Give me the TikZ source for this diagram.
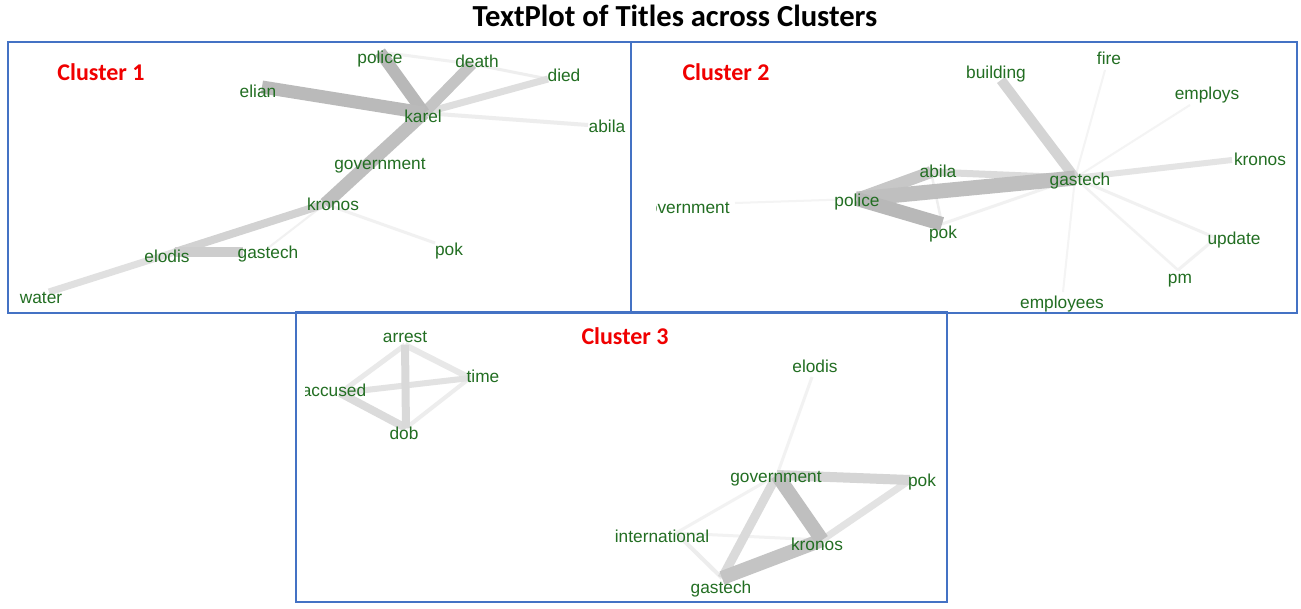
\documentclass[tikz,border=0pt]{standalone}
\usepackage{fontspec}
\setmainfont{Liberation Sans}
\newfontfamily\calfont{Carlito}
\definecolor{frameblue}{HTML}{4472C4}
\definecolor{wordgreen}{RGB}{34,110,34}
\definecolor{clred}{HTML}{F00000}
\begin{document}
\begin{tikzpicture}[x=1pt,y=-1pt,
  word/.style={text=wordgreen,font=\fontsize{17.3}{20}\selectfont,inner sep=0pt,text height=12pt,text depth=6pt,yshift=-2pt},
  cltitle/.style={text=clred,font=\calfont\bfseries\fontsize{24}{27}\selectfont,inner sep=0pt},
  maintitle/.style={text=black,font=\calfont\bfseries\fontsize{30.6}{34}\selectfont,inner sep=0pt},
  ed/.style 2 args={line width=#1pt,draw=black!#2},
  panel/.style={draw=frameblue,line width=2pt}]
\useasboundingbox (0,0) rectangle (1301,608);
\fill[white] (0,0) rectangle (1301,608);

\node[maintitle] (title) at (675,16) {TextPlot of Titles across Clusters};

% ---------------- Cluster 1 ----------------
\begin{scope}
\clip (9,43) rectangle (630,312);
\coordinate (v1police) at (380,52);
\coordinate (v1death) at (472,64);
\coordinate (v1died) at (548,79);
\coordinate (v1elian) at (262,87);
\coordinate (v1karel) at (424,113);
\coordinate (v1abila) at (588,125);
\coordinate (v1kronos) at (325,204);
\coordinate (v1pok) at (435,243);
\coordinate (v1elodis) at (175,252);
\coordinate (v1gastech) at (243,252);
\coordinate (v1water) at (49,292);
\draw[ed={2}{5.5}] (v1kronos) -- (268,248);
\draw[ed={3}{5.5}] (v1kronos) -- (v1pok);
\draw[ed={3}{5.5}] (v1police) -- (v1death);
\draw[ed={3}{6.5}] (v1death) -- (v1died);
\draw[ed={4}{7}] (v1karel) -- (v1abila);
\draw[ed={7}{13}] (v1karel) -- (v1died);
\draw[ed={7}{12}] (v1elodis) -- (v1water);
\draw[ed={8}{17.5}] (v1kronos) -- (v1elodis);
\draw[ed={10}{19.5}] (v1elodis) -- (v1gastech);
\draw[ed={11}{23}] (v1karel) -- (v1death);
\draw[ed={13}{25}] (v1karel) -- (v1kronos);
\draw[ed={12}{28}] (v1karel) -- (v1police);
\draw[ed={13}{27}] (v1karel) -- (v1elian);
\node[cltitle] (cl1) at (101,72) {Cluster 1};
\node[word] (c1police) at (380,58) {police};
\node[word] (c1death) at (477,62) {death};
\node[word] (c1died) at (564,76) {died};
\node[word] (c1elian) at (258,92) {elian};
\node[word] (c1karel) at (423,117) {karel};
\node[word] (c1abila) at (607,127) {abila};
\node[word] (c1government) at (380,164) {government};
\node[word] (c1kronos) at (333,205) {kronos};
\node[word] (c1pok) at (449,250) {pok};
\node[word] (c1elodis) at (167,257) {elodis};
\node[word] (c1gastech) at (268,253) {gastech};
\node[word] (c1water) at (41,298) {water};
\end{scope}

% ---------------- Cluster 2 ----------------
\begin{scope}
\clip (656,43) rectangle (1296,312);
\coordinate (v2gastech) at (1075,178);
\coordinate (v2building) at (1001,80);
\coordinate (v2fire) at (1105,70);
\coordinate (v2employs) at (1190,105);
\coordinate (v2kronos) at (1232,160);
\coordinate (v2update) at (1216,238);
\coordinate (v2pm) at (1178,270);
\coordinate (v2employees) at (1063,292);
\coordinate (v2police) at (857,199);
\coordinate (v2govt) at (735,203);
\coordinate (v2abila) at (931,172);
\coordinate (v2pok) at (942,224);
\draw[ed={2}{4.5}] (v2police) -- (v2govt);
\draw[ed={2}{4.5}] (v2gastech) -- (v2fire);
\draw[ed={2}{4.5}] (v2gastech) -- (v2employs);
\draw[ed={2}{4.5}] (v2gastech) -- (v2employees);
\draw[ed={2.5}{5}] (v2gastech) -- (v2pm);
\draw[ed={3}{5.5}] (v2gastech) -- (v2update);
\draw[ed={3}{5}] (v2pm) -- (v2update);
\draw[ed={3}{5.5}] (v2gastech) -- (v2pok);
\draw[ed={2.5}{6.5}] (v2abila) -- (v2pok);
\draw[ed={6}{10.5}] (v2gastech) -- (v2kronos);
\draw[ed={7}{14}] (v2abila) -- (v2gastech);
\draw[ed={10}{17}] (v2building) -- (v2gastech);
\draw[ed={12}{22}] (v2police) -- (v2abila);
\draw[ed={15}{25}] (v2police) -- (v2gastech);
\draw[ed={14}{28}] (v2police) -- (v2pok);
\node[cltitle] (cl2) at (726,72) {Cluster 2};
\node[word] (c2building) at (996,73) {building};
\node[word] (c2fire) at (1109,59) {fire};
\node[word] (c2employs) at (1207,94) {employs};
\node[word] (c2kronos) at (1260,160) {kronos};
\node[word] (c2abila) at (938,172) {abila};
\node[word] (c2gastech) at (1080,180) {gastech};
\node[word] (c2police) at (857,201) {police};
\node[word] (c2government) at (684,208) {government};
\node[word] (c2pok) at (943,233) {pok};
\node[word] (c2update) at (1234,239) {update};
\node[word] (c2pm) at (1180,278) {pm};
\node[word] (c2employees) at (1062,303) {employees};
\end{scope}

% ---------------- Cluster 3 ----------------
\begin{scope}
\clip (305,313) rectangle (946,601);
\coordinate (v3arrest) at (405,345);
\coordinate (v3time) at (470,378);
\coordinate (v3accused) at (340,393);
\coordinate (v3dob) at (406,428);
\coordinate (v3elodis) at (812,377);
\coordinate (v3govt) at (777,475);
\coordinate (v3pok) at (910,480);
\coordinate (v3kronos) at (822,540);
\coordinate (v3gastech) at (722,578);
\coordinate (v3intl) at (676,533);
\draw[ed={4}{7}] (v3dob) -- (v3time);
\draw[ed={5}{8.5}] (v3accused) -- (v3arrest);
\draw[ed={6}{9}] (v3arrest) -- (v3time);
\draw[ed={6}{11.5}] (v3accused) -- (v3time);
\draw[ed={8}{14}] (v3accused) -- (v3dob);
\draw[ed={8}{15}] (v3arrest) -- (v3dob);
\draw[ed={3}{5}] (v3elodis) -- (v3govt);
\draw[ed={3}{5}] (v3intl) -- (v3govt);
\draw[ed={3}{5}] (v3intl) -- (v3kronos);
\draw[ed={4}{7}] (v3intl) -- (v3gastech);
\draw[ed={7}{11}] (v3kronos) -- (v3pok);
\draw[ed={9}{14.5}] (v3govt) -- (v3gastech);
\draw[ed={10}{16.5}] (v3govt) -- (v3pok);
\draw[ed={14}{23}] (v3kronos) -- (v3gastech);
\draw[ed={14}{25}] (v3govt) -- (v3kronos);
\node[cltitle] (cl3) at (625,336) {Cluster 3};
\node[word] (c3arrest) at (405,337) {arrest};
\node[word] (c3time) at (483,377) {time};
\node[word] (c3accused) at (334,391) {accused};
\node[word] (c3dob) at (404,434) {dob};
\node[word] (c3elodis) at (815,367) {elodis};
\node[word] (c3government) at (776,477) {government};
\node[word] (c3pok) at (922,481) {pok};
\node[word] (c3international) at (662,537) {international};
\node[word] (c3kronos) at (817,545) {kronos};
\node[word] (c3gastech) at (721,588) {gastech};
\end{scope}

% ---------------- Frames ----------------
\draw[panel] (8,42) rectangle (631,313);
\draw[panel] (631,42) rectangle (1297,313);
\draw[panel] (296,312) rectangle (947,602);
\end{tikzpicture}
\end{document}
